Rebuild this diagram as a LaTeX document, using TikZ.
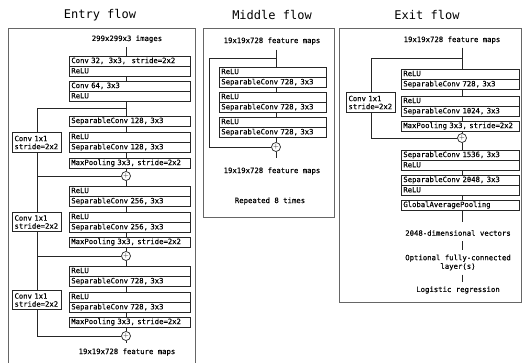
\documentclass[tikz,border=0pt]{standalone}
\usepackage{fontspec}
\setmonofont[FakeBold=0.1]{DejaVu Sans Mono}
\newfontfamily\headfont{DejaVu Sans Mono}
\begin{document}
\begin{tikzpicture}[x=1pt,y=-1pt,
  frame/.style={draw=black!60, line width=0.8pt},
  title/.style={font=\headfont\fontsize{12}{14}\selectfont, inner sep=0pt},
  lbl/.style={font=\ttfamily\fontsize{7.3}{8.6}\selectfont, inner sep=1pt, align=center},
  lyr/.style={draw=black!85, line width=0.7pt, inner xsep=2pt, inner ysep=0pt,
    minimum height=9.6pt, text width=#1, align=left, anchor=north west,
    text height=5.3pt, text depth=1.5pt,
    font=\ttfamily\fontsize{7.25}{8}\selectfont},
  ent/.style={lyr=117pt},
  mid/.style={lyr=103pt},
  ext/.style={lyr=114pt},
  skipbox/.style={draw=black!85, line width=0.7pt, inner xsep=2pt, inner ysep=1.5pt,
    minimum height=19.5pt, text width=45pt, align=left,
    font=\ttfamily\fontsize{7.25}{8}\selectfont},
  plus/.style={draw=black!85, line width=0.7pt, circle, minimum size=9pt, inner sep=0pt,
    font=\sffamily\fontsize{7}{7}\selectfont},
  conn/.style={draw=black!85, line width=0.7pt}]
\useasboundingbox (0,0) rectangle (523,363);
\fill[white] (0,0) rectangle (523,363);

% ---------------- frames and titles ----------------
\draw[frame] (8,28) rectangle (195,378);
\draw[frame] (203,28) rectangle (334,217);
\draw[frame] (339,28) rectangle (521,302);
\node[title] (tEntry) at (100,15) {Entry flow};
\node[title] (tMid) at (272,15) {Middle flow};
\node[title] (tExit) at (427,15) {Exit flow};

% ---------------- Entry flow ----------------
\coordinate (es) at (126,0);
\node[lbl] (img) at (127,39) {299x299x3 images};
\node[ent] (b1a) at (69,56) {Conv 32,\hspace{2pt} 3x3,\hspace{3pt} stride=2x2};
\node[ent] (b1b) at (b1a.south west) {ReLU};
\node[ent] (b2a) at (69,81) {Conv 64, 3x3};
\node[ent] (b2b) at (b2a.south west) {ReLU};
\node[ent] (s1) at (69,116) {SeparableConv 128, 3x3};
\node[ent] (b3a) at (69,132) {ReLU};
\node[ent] (b3b) at (b3a.south west) {SeparableConv 128, 3x3};
\node[ent] (m1) at (69,158) {MaxPooling 3x3, stride=2x2};
\node[plus] (p1) at (126,176) {+};
\node[ent] (b4a) at (69,186) {ReLU};
\node[ent] (b4b) at (b4a.south west) {SeparableConv 256, 3x3};
\node[ent] (b5a) at (69,212) {ReLU};
\node[ent] (b5b) at (b5a.south west) {SeparableConv 256, 3x3};
\node[ent] (m2) at (69,237) {MaxPooling 3x3, stride=2x2};
\node[plus] (p2) at (126,256) {+};
\node[ent] (b6a) at (69,266) {ReLU};
\node[ent] (b6b) at (b6a.south west) {SeparableConv 728, 3x3};
\node[ent] (b7a) at (69,292) {ReLU};
\node[ent] (b7b) at (b7a.south west) {SeparableConv 728, 3x3};
\node[ent] (m3) at (69,317) {MaxPooling 3x3, stride=2x2};
\node[plus] (p3) at (126,336) {+};
\node[lbl] (eout) at (127,352) {19x19x728 feature maps};

\node[skipbox] (c1) at (37,142.5) {Conv 1x1\\stride=2x2};
\node[skipbox] (c2) at (37,222) {Conv 1x1\\stride=2x2};
\node[skipbox] (c3) at (37,300) {Conv 1x1\\stride=2x2};
\coordinate (j1) at (126,108);

\draw[conn, shorten <=3pt] (img.south -| es) -- (b1a.north -| es);
\draw[conn] (b1b.south -| es) -- (b2a.north -| es);
\draw[conn] (b2b.south -| es) -- (s1.north -| es);
\draw[conn] (s1.south -| es) -- (b3a.north -| es);
\draw[conn] (b3b.south -| es) -- (m1.north -| es);
\draw[conn] (m1.south -| es) -- (p1.north);
\draw[conn] (p1.south) -- (b4a.north -| es);
\draw[conn] (b4b.south -| es) -- (b5a.north -| es);
\draw[conn] (b5b.south -| es) -- (m2.north -| es);
\draw[conn] (m2.south -| es) -- (p2.north);
\draw[conn] (p2.south) -- (b6a.north -| es);
\draw[conn] (b6b.south -| es) -- (b7a.north -| es);
\draw[conn] (b7b.south -| es) -- (m3.north -| es);
\draw[conn] (m3.south -| es) -- (p3.north);
\draw[conn, shorten >=4pt] (p3.south) -- (eout.north -| es);

\draw[conn] (j1) -| (c1.north);
\draw[conn] (c1.south) |- (p1.west);
\draw[conn] (p1.west) -| (c2.north);
\draw[conn] (c2.south) |- (p2.west);
\draw[conn] (p2.west) -| (c3.north);
\draw[conn] (c3.south) |- (p3.west);

% ---------------- Middle flow ----------------
\coordinate (ms) at (276,0);
\node[lbl] (min) at (272,41) {19x19x728 feature maps};
\node[mid] (r1a) at (219,67) {ReLU};
\node[mid] (r1b) at (r1a.south west) {SeparableConv 728, 3x3};
\node[mid] (r2a) at (219,92) {ReLU};
\node[mid] (r2b) at (r2a.south west) {SeparableConv 728, 3x3};
\node[mid] (r3a) at (219,117) {ReLU};
\node[mid] (r3b) at (r3a.south west) {SeparableConv 728, 3x3};
\node[plus] (mp) at (276,147) {+};
\node[lbl] (mout) at (272,171) {19x19x728 feature maps};
\node[lbl] (mrep) at (270,201) {Repeated 8 times};
\coordinate (mj) at (276,58);
\coordinate (mk) at (209,58);

\draw[conn, shorten <=4pt] (min.south -| ms) -- (r1a.north -| ms);
\draw[conn] (r1b.south -| ms) -- (r2a.north -| ms);
\draw[conn] (r2b.south -| ms) -- (r3a.north -| ms);
\draw[conn] (r3b.south -| ms) -- (mp.north);
\draw[conn, shorten >=8pt] (mp.south) -- (mout.north -| ms);
\draw[conn] (mj) -- (mk) |- (mp.west);

% ---------------- Exit flow ----------------
\coordinate (xs) at (462,0);
\node[lbl] (xin) at (452,40) {19x19x728 feature maps};
\node[ext] (x1a) at (401,69) {ReLU};
\node[ext] (x1b) at (x1a.south west) {SeparableConv 728, 3x3};
\node[ext] (x2a) at (401,96) {ReLU};
\node[ext] (x2b) at (x2a.south west) {SeparableConv 1024, 3x3};
\node[ext] (xm) at (401,121) {MaxPooling 3x3, stride=2x2};
\node[plus] (xp) at (462,138) {+};
\node[ext] (x3a) at (401,150) {SeparableConv 1536, 3x3};
\node[ext] (x3b) at (x3a.south west) {ReLU};
\node[ext] (x4a) at (401,175) {SeparableConv 2048, 3x3};
\node[ext] (x4b) at (x4a.south west) {ReLU};
\node[ext] (xg) at (401,200) {GlobalAveragePooling};
\node[lbl] (xv) at (458,233) {2048-dimensional vectors};
\node[lbl] (xfc) at (458,262.5) {Optional fully-connected\\layer(s)};
\node[lbl] (xlr) at (458,290) {Logistic regression};
\node[skipbox] (xc) at (371,102.5) {Conv 1x1\\stride=2x2};
\coordinate (xj) at (462,58);

\draw[conn, shorten <=3pt] (xin.south -| xs) -- (x1a.north -| xs);
\draw[conn] (x1b.south -| xs) -- (x2a.north -| xs);
\draw[conn] (x2b.south -| xs) -- (xm.north -| xs);
\draw[conn] (xm.south -| xs) -- (xp.north);
\draw[conn] (xp.south) -- (x3a.north -| xs);
\draw[conn] (x3b.south -| xs) -- (x4a.north -| xs);
\draw[conn] (x4b.south -| xs) -- (xg.north -| xs);
\draw[conn, shorten >=7pt] (xg.south -| xs) -- (xv.north -| xs);
\draw[conn, shorten <=4pt, shorten >=3pt] (xv.south -| xs) -- (xfc.north -| xs);
\draw[conn, shorten <=3pt, shorten >=3pt] (xfc.south -| xs) -- (xlr.north -| xs);
\draw[conn] (xj) -| (xc.north);
\draw[conn] (xc.south) |- (xp.west);
\end{tikzpicture}
\end{document}
